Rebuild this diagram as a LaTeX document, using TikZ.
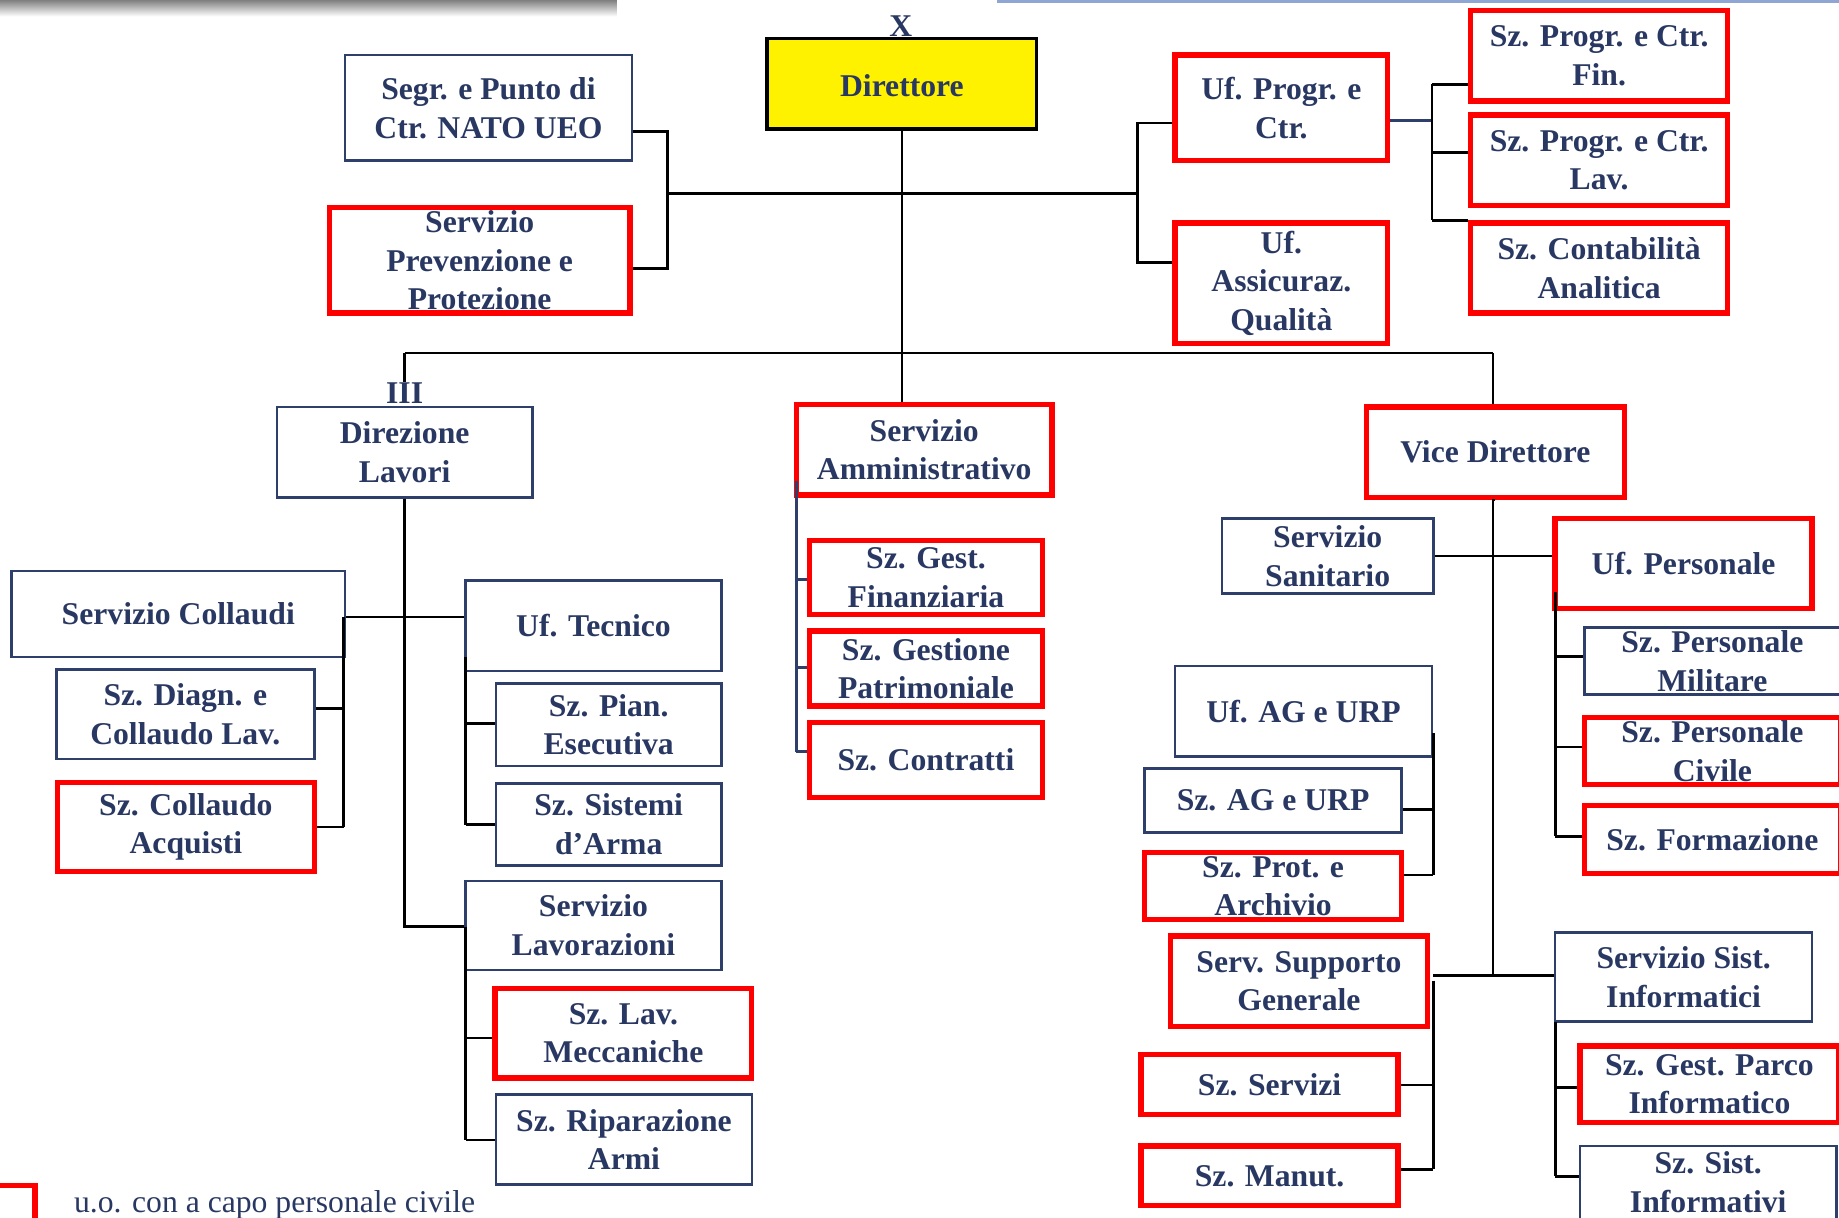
\documentclass[tikz,border=0pt]{standalone}
\usepackage{fontspec}
\setmainfont{Liberation Serif}
\definecolor{navyt}{RGB}{41,56,98}
\definecolor{navyb}{RGB}{47,63,108}
\definecolor{redb}{RGB}{255,0,0}
\definecolor{bluel}{RGB}{143,166,212}
\begin{document}
\begin{tikzpicture}[x=1pt,y=-1pt,
 base/.style={rectangle, inner sep=0pt, fill=white},
 nbox/.style={base, draw=navyb, line width=2.2pt},
 rbox/.style={base, draw=redb, line width=4.6pt},
 ybox/.style={base, draw=black, line width=2.8pt, fill=yellow},
 txt/.style={font=\fontsize{27}{33}\selectfont\bfseries, text=navyt, align=center, inner sep=0pt},
 leg/.style={font=\fontsize{27}{33}\selectfont, text=navyt, inner sep=0pt},
 conn/.style={draw=black, line width=2.3pt},
 nconn/.style={draw=navyb, line width=2.3pt},
 sz/.style 2 args={minimum width=#1pt, minimum height=#2pt}
]
\useasboundingbox (0,0) rectangle (1568,1038.5);
\clip (0,0) rectangle (1568,1038.5);

% decorations at the top
\shade[top color=black!50, bottom color=white] (0,0) rectangle (526,14);
\draw[bluel, line width=3pt] (850,1) -- (1568,1);

% top level
\node[ybox, sz={230}{77}, label={[txt,yshift=-1.5pt]center:Direttore}] (dir) at (769,71.5) {};
\node[txt] (xlab) at (768,22) {X};
\node[nbox, sz={245}{90}, label={[txt]center:Segr. e Punto di\\Ctr. NATO UEO}] (segr) at (416.5,92) {};
\node[rbox, sz={256}{90}, label={[txt]center:Servizio\\Prevenzione e\\Protezione}] (prev) at (409,222) {};
\node[rbox, sz={181}{90}, label={[txt]center:Uf. Progr. e\\Ctr.}] (ufprog) at (1092.5,92) {};
\node[rbox, sz={181}{103}, label={[txt]center:Uf.\\Assicuraz.\\Qualità}] (ufass) at (1092.5,241.5) {};
\node[rbox, sz={219}{77}, label={[txt]center:Sz. Progr. e Ctr.\\Fin.}] (szfin) at (1363.5,47.5) {};
\node[rbox, sz={219}{77}, label={[txt]center:Sz. Progr. e Ctr.\\Lav.}] (szlav) at (1363.5,136.5) {};
\node[rbox, sz={219}{77}, label={[txt]center:Sz. Contabilità\\Analitica}] (szcont) at (1363.5,228.5) {};

% second level
\node[txt] (iii) at (345,335) {III};
\node[nbox, sz={218}{77}, label={[txt]center:Direzione\\Lavori}] (dirlav) at (345,385.5) {};
\node[rbox, sz={218}{77}, label={[txt]center:Servizio\\Amministrativo}] (amm) at (788,383.5) {};
\node[rbox, sz={220}{77}, label={[txt]center:Vice Direttore}] (vice) at (1275,385.5) {};

% Direzione Lavori subtree
\node[nbox, sz={284}{73}, label={[txt]center:Servizio Collaudi}] (collaudi) at (152,523.5) {};
\node[nbox, sz={218}{77}, label={[txt]center:Uf. Tecnico}] (uftec) at (506,533.5) {};
\node[nbox, sz={220}{76}, label={[txt]center:Sz. Diagn. e\\Collaudo Lav.}] (diagn) at (158,609) {};
\node[rbox, sz={219}{76}, label={[txt]center:Sz. Collaudo\\Acquisti}] (colacq) at (158.5,705) {};
\node[nbox, sz={192}{70}, label={[txt]center:Sz. Pian.\\Esecutiva}] (pian) at (519,618) {};
\node[nbox, sz={192}{70}, label={[txt]center:Sz. Sistemi\\d’Arma}] (sistemi) at (519,703) {};
\node[nbox, sz={218}{76}, label={[txt]center:Servizio\\Lavorazioni}] (lavoraz) at (506,789) {};
\node[rbox, sz={219}{76}, label={[txt]center:Sz. Lav.\\Meccaniche}] (mecc) at (531.5,881) {};
\node[nbox, sz={218}{77}, label={[txt]center:Sz. Riparazione\\Armi}] (ripar) at (532,971.5) {};

% Servizio Amministrativo subtree
\node[rbox, sz={199}{63}, label={[txt]center:Sz. Gest.\\Finanziaria}] (gestfin) at (789.5,492.5) {};
\node[rbox, sz={199}{64}, label={[txt]center:Sz. Gestione\\Patrimoniale}] (gestpat) at (789.5,570) {};
\node[rbox, sz={199}{64}, label={[txt]center:Sz. Contratti}] (contr) at (789.5,648) {};

% Vice Direttore subtree
\node[nbox, sz={180}{64}, label={[txt]center:Servizio\\Sanitario}] (sanit) at (1132,474) {};
\node[rbox, sz={219}{77}, label={[txt]center:Uf. Personale}] (ufpers) at (1435.5,480.5) {};
\node[nbox, sz={218}{57}, label={[txt]center:Sz. Personale\\Militare}] (persmil) at (1460,563.5) {};
\node[rbox, sz={218}{57}, label={[txt]center:Sz. Personale\\Civile}] (persciv) at (1460,640.5) {};
\node[rbox, sz={218}{58}, label={[txt]center:Sz. Formazione}] (form) at (1460,716) {};
\node[nbox, sz={219}{77}, label={[txt]center:Uf. AG e URP}] (ufag) at (1111.5,606.5) {};
\node[nbox, sz={219}{55}, label={[txt]center:Sz. AG e URP}] (szag) at (1085.5,682.5) {};
\node[rbox, sz={219}{57}, label={[txt]center:Sz. Prot. e\\Archivio}] (prot) at (1085.5,755.5) {};
\node[rbox, sz={219}{77}, label={[txt]center:Serv. Supporto\\Generale}] (supp) at (1107.5,836.5) {};
\node[rbox, sz={219}{51}, label={[txt]center:Sz. Servizi}] (servizi) at (1082.5,924.5) {};
\node[rbox, sz={219}{51}, label={[txt]center:Sz. Manut.}] (manut) at (1082.5,1002.5) {};
\node[nbox, sz={219}{76}, label={[txt]center:Servizio Sist.\\Informatici}] (sistinf) at (1435.5,833) {};
\node[rbox, sz={221}{65}, label={[txt]center:Sz. Gest. Parco\\Informatico}] (parco) at (1457.5,924.5) {};
\node[nbox, sz={219}{68}, label={[txt,yshift=3pt]center:Sz. Sist.\\Informativi}] (sistinfv) at (1456.5,1011) {};

% junction coordinates
\coordinate (jL) at (569,165);
\coordinate (jR) at (970,165);
\coordinate (bl1) at (569,112);
\coordinate (bl2) at (569,229);
\coordinate (br1) at (970,105);
\coordinate (br2) at (970,224);
\coordinate (pj) at (1221,103);
\coordinate (p1) at (1221,72);
\coordinate (p2) at (1221,130);
\coordinate (p3) at (1221,188);
\coordinate (mL) at (345,301);
\coordinate (mR) at (1273,301);
\coordinate (ct) at (345,526);
\coordinate (c0) at (293,526);
\coordinate (c1) at (293,604);
\coordinate (c2) at (293,705);
\coordinate (t0) at (397,560);
\coordinate (t1) at (397,617);
\coordinate (t2) at (397,703);
\coordinate (dl) at (345,790);
\coordinate (l0) at (397,790);
\coordinate (l1) at (397,885);
\coordinate (l2) at (397,972);
\coordinate (a0) at (679,410);
\coordinate (a1) at (679,494);
\coordinate (a2) at (679,569);
\coordinate (a3) at (679,641);
\coordinate (vs) at (1273,474);
\coordinate (vb) at (1273,832);
\coordinate (u0) at (1326,505);
\coordinate (u1) at (1326,560);
\coordinate (u2) at (1326,637);
\coordinate (u3) at (1326,713);
\coordinate (g0) at (1222,625);
\coordinate (g1) at (1222,690);
\coordinate (g2) at (1222,746);
\coordinate (sb) at (1222,832);
\coordinate (s0) at (1222,836);
\coordinate (s1) at (1222,925);
\coordinate (s2) at (1222,997);
\coordinate (i0) at (1326,871);
\coordinate (i1) at (1326,927);
\coordinate (i2) at (1326,1003);
\coordinate (legc) at (30,1011);

% connectors: top
\draw[conn] (dir.south) -- (dir.south |- amm.north);
\draw[conn] (jL) -- (jR);
\draw[conn] (segr.east |- bl1) -- (bl1) -- (bl2) -- (prev.east |- bl2);
\draw[conn] (ufprog.west |- br1) -- (br1) -- (br2) -- (ufass.west |- br2);
\draw[nconn] (ufprog.east |- pj) -- (pj);
\draw[conn] (p1) -- (p3);
\draw[conn] (p1) -- (szfin.west |- p1);
\draw[conn] (p2) -- (szlav.west |- p2);
\draw[conn] (p3) -- (szcont.west |- p3);
\draw[conn] (mL) -- (mR);
\draw[conn] (mL) -- (iii.north);
\draw[conn] (mR) -- (mR |- vice.north);

% Direzione Lavori
\draw[conn] (dirlav.south) -- (dl) -- (lavoraz.west |- dl);
\draw[conn] (collaudi.east |- ct) -- (uftec.west |- ct);
\draw[conn] (c0) -- (c2);
\draw[conn] (diagn.east |- c1) -- (c1);
\draw[conn] (colacq.east |- c2) -- (c2);
\draw[conn] (t0) -- (t2);
\draw[conn] (t1) -- (pian.west |- t1);
\draw[conn] (t2) -- (sistemi.west |- t2);
\draw[conn] (l0) -- (l2);
\draw[conn] (l1) -- (mecc.west |- l1);
\draw[conn] (l2) -- (ripar.west |- l2);

% Servizio Amministrativo
\draw[nconn] (a0) -- (a3);
\draw[nconn] (a1) -- (gestfin.west |- a1);
\draw[nconn] (a2) -- (gestpat.west |- a2);
\draw[nconn] (a3) -- (contr.west |- a3);

% Vice Direttore
\draw[conn] (vice.south) -- (vice.south -| vb) -- (vb);
\draw[conn] (sanit.east |- vs) -- (ufpers.west |- vs);
\draw[conn] (u0) -- (u3);
\draw[conn] (u1) -- (persmil.west |- u1);
\draw[conn] (u2) -- (persciv.west |- u2);
\draw[conn] (u3) -- (form.west |- u3);
\draw[conn] (g0) -- (g2);
\draw[conn] (szag.east |- g1) -- (g1);
\draw[conn] (prot.east |- g2) -- (g2);
\draw[conn] (sb) -- (sistinf.west |- sb);
\draw[conn] (s0) -- (s2);
\draw[conn] (servizi.east |- s1) -- (s1);
\draw[conn] (manut.east |- s2) -- (s2);
\draw[conn] (i0) -- (i2);
\draw[conn] (i1) -- (parco.west |- i1);
\draw[conn] (i2) -- (sistinfv.west |- i2);

% legend
\draw[redb, line width=4.6pt] (0,1011) -- (legc) -- (30,1045);
\node[leg, anchor=west] (legt) at (63,1027) {u.o. con a capo personale civile};
\end{tikzpicture}
\end{document}
